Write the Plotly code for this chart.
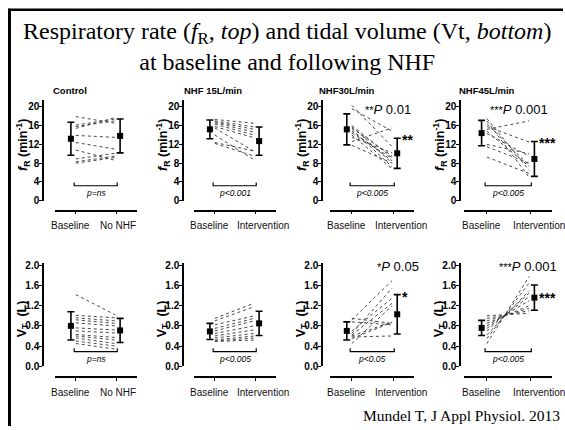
import plotly.graph_objects as go

W, H = 565, 430

# ---------------- data ----------------
panel_titles = ["Control", "NHF 15L/min", "NHF30L/min", "NHF45L/min"]
x_labels_ctrl = ["Baseline", "No NHF"]
x_labels_int = ["Baseline", "Intervention"]

# Respiratory rate fR (min^-1): individual subjects, baseline -> after
ctrl_fr_base = [17.9, 16.1, 15.8, 15.4, 13.9, 12.4, 10.8, 8.9, 8.3, 8.0]
ctrl_fr_post = [16.5, 17.4, 17.0, 17.7, 13.5, 11.0, 8.6, 10.1, 9.5, 9.2]
n15_fr_base = [17.3, 17.0, 16.8, 16.6, 16.3, 15.8, 15.5, 14.0, 12.4, 12.2]
n15_fr_post = [16.5, 15.7, 15.2, 14.6, 14.0, 13.4, 10.5, 8.7, 10.6, 9.5]
n30_fr_base = [20.3, 19.6, 16.0, 15.8, 15.5, 15.2, 14.8, 14.4, 14.0, 13.5, 12.6, 11.8]
n30_fr_post = [11.5, 14.8, 9.2, 8.0, 9.5, 7.2, 8.5, 9.0, 6.8, 10.2, 15.5, 8.0]
n45_fr_base = [17.5, 17.0, 16.4, 15.8, 15.2, 14.8, 14.3, 12.0, 11.5, 9.3]
n45_fr_post = [6.5, 5.0, 7.5, 12.5, 17.0, 7.3, 9.5, 10.0, 8.0, 5.8]

# Tidal volume Vt (L)
ctrl_vt_base = [1.42, 1.01, 0.96, 0.92, 0.86, 0.76, 0.70, 0.63, 0.60, 0.56, 0.50, 0.45]
ctrl_vt_post = [1.02, 0.96, 0.90, 0.85, 0.80, 0.72, 0.66, 0.57, 0.52, 0.45, 0.40, 0.34]
n15_vt_base = [0.95, 0.90, 0.82, 0.75, 0.70, 0.65, 0.60, 0.56, 0.52, 0.50, 0.49]
n15_vt_post = [1.25, 1.18, 1.00, 0.95, 0.90, 0.80, 0.72, 0.65, 0.60, 0.56, 0.52]
n30_vt_base = [0.92, 0.95, 0.88, 0.65, 0.70, 0.62, 0.60, 0.58, 0.55, 0.45]
n30_vt_post = [1.70, 0.85, 0.82, 1.55, 1.35, 1.25, 0.88, 0.60, 0.87, 1.20]
n45_vt_base = [0.45, 0.55, 0.62, 0.70, 0.75, 0.80, 0.85, 0.90, 0.95, 1.00]
n45_vt_post = [1.78, 1.65, 1.50, 1.45, 1.38, 1.30, 1.20, 1.15, 1.10, 1.05]

# group means and SD [baseline, after]
ctrl_fr_mean, ctrl_fr_sd = [13.2, 13.8], [3.5, 3.6]
n15_fr_mean, n15_fr_sd = [15.2, 12.7], [2.0, 3.0]
n30_fr_mean, n30_fr_sd = [15.2, 10.1], [3.3, 3.2]
n45_fr_mean, n45_fr_sd = [14.4, 8.9], [2.7, 3.7]
ctrl_vt_mean, ctrl_vt_sd = [0.80, 0.71], [0.28, 0.24]
n15_vt_mean, n15_vt_sd = [0.69, 0.85], [0.16, 0.24]
n30_vt_mean, n30_vt_sd = [0.70, 1.03], [0.18, 0.39]
n45_vt_mean, n45_vt_sd = [0.76, 1.36], [0.15, 0.25]

# p-value texts under the brackets
fr_pvals = ["p=ns", "p<0.001", "p<0.005", "p<0.005"]
vt_pvals = ["p=ns", "p<0.005", "p<0.05", "p<0.005"]
# significance stars and headline labels (empty = none)
fr_stars = ["", "", "**", "***"]
vt_stars = ["", "", "*", "***"]
fr_sig_text = ["", "", "0.01", "0.001"]
vt_sig_text = ["", "", "0.05", "0.001"]

fr_ticks = [0, 4, 8, 12, 16, 20]
vt_ticks = [0.0, 0.4, 0.8, 1.2, 1.6, 2.0]

# ---------------- layout geometry (pixels / data units) ----------------
col_yaxis_px = [43, 183, 322, 460]
col_xdom_px = [(54.5, 136.5), (193.5, 275.5), (330, 414), (464, 552)]
rows = [
    dict(y0=202, ytop=98.8, xline=212, xlab=227, rng=[0, 21.5], ticks=fr_ticks, fmt="d",
         brk=3.2, brk_h=0.7, ptxt=1.7, sig_y=19.4,
         star_y=[None, None, 12.9, 12.3], sig_x=[None, None, 0.28, 0.05]),
    dict(y0=371, ytop=265.4, xline=382, xlab=398, rng=[0, 2.05], ticks=vt_ticks, fmt=".1f",
         brk=0.29, brk_h=0.065, ptxt=0.15, sig_y=1.98,
         star_y=[None, None, 1.37, 1.35], sig_x=[None, None, 0.57, 0.25]),
]
# x positions (data units) of the category label centres
xlab_pos_ctrl = [-0.1, 1.04]
xlab_pos_int = [-0.1, 1.2]

def px(x):
    return x / W

def py(y):
    return 1 - y / H

fr_sets = [(ctrl_fr_base, ctrl_fr_post, ctrl_fr_mean, ctrl_fr_sd),
           (n15_fr_base, n15_fr_post, n15_fr_mean, n15_fr_sd),
           (n30_fr_base, n30_fr_post, n30_fr_mean, n30_fr_sd),
           (n45_fr_base, n45_fr_post, n45_fr_mean, n45_fr_sd)]
vt_sets = [(ctrl_vt_base, ctrl_vt_post, ctrl_vt_mean, ctrl_vt_sd),
           (n15_vt_base, n15_vt_post, n15_vt_mean, n15_vt_sd),
           (n30_vt_base, n30_vt_post, n30_vt_mean, n30_vt_sd),
           (n45_vt_base, n45_vt_post, n45_vt_mean, n45_vt_sd)]

fig = go.Figure()
annotations = []
layout_axes = {}

SANS = "Liberation Sans, Arial, sans-serif"
SERIF = "Liberation Serif, Times New Roman, serif"

def ann(**kw):
    kw.setdefault("showarrow", False)
    kw.setdefault("xanchor", "center")
    kw.setdefault("yanchor", "middle")
    annotations.append(kw)

for r, (row, sets, pvals, stars, sigs) in enumerate(
        [(rows[0], fr_sets, fr_pvals, fr_stars, fr_sig_text),
         (rows[1], vt_sets, vt_pvals, vt_stars, vt_sig_text)]):
    for c in range(4):
        i = r * 4 + c + 1
        xa = "x" if i == 1 else f"x{i}"
        ya = "y" if i == 1 else f"y{i}"
        base, post, mean, sd = sets[c]

        # individual subjects
        xs, ys = [], []
        for b, a in zip(base, post):
            xs += [0.02, 0.98, None]
            ys += [b, a, None]
        fig.add_trace(go.Scatter(x=xs, y=ys, mode="lines", xaxis=xa, yaxis=ya,
                                 line=dict(color="#333333", width=0.9, dash="dot"),
                                 showlegend=False, hoverinfo="skip"))
        # mean +/- SD
        fig.add_trace(go.Scatter(x=[-0.1, 1.1], y=mean, mode="markers", xaxis=xa, yaxis=ya,
                                 marker=dict(symbol="square", size=6, color="black"),
                                 error_y=dict(type="data", array=sd, color="black",
                                              thickness=1.6, width=3.5),
                                 showlegend=False, cliponaxis=False))
        # bracket
        bh = row["brk"]
        fig.add_trace(go.Scatter(x=[-0.02, -0.02, 1.03, 1.03],
                                 y=[bh + row["brk_h"], bh, bh, bh + row["brk_h"]],
                                 mode="lines", xaxis=xa, yaxis=ya,
                                 line=dict(color="black", width=1.2),
                                 showlegend=False, hoverinfo="skip"))
        ann(x=0.5, y=row["ptxt"], xref=xa, yref=ya, text=f"<i>{pvals[c]}</i>",
            font=dict(family=SANS, size=8.5, color="black"))
        if stars[c]:
            ann(x=1.17, y=row["star_y"][c], xref=xa, yref=ya, xanchor="left",
                text=f"<b>{stars[c]}</b>",
                font=dict(family=SANS, size=14, color="black"))
            ann(x=row["sig_x"][c], y=row["sig_y"], xref=xa, yref=ya, xanchor="left",
                text=f"<span style='font-size:11px'>{stars[c]}</span><i>P</i> {sigs[c]}",
                font=dict(family=SANS, size=13, color="black"))

        # category labels
        labels = x_labels_ctrl if c == 0 else x_labels_int
        lpos = xlab_pos_ctrl if c == 0 else xlab_pos_int
        for lab, lx in zip(labels, lpos):
            ann(x=lx, y=py(row["xlab"]), xref=xa, yref="paper", text=lab,
                font=dict(family=SANS, size=10, color="#111"))

        xd = col_xdom_px[c]
        layout_axes["xaxis" if i == 1 else f"xaxis{i}"] = dict(
            domain=[px(xd[0]), px(xd[1])], anchor="free", position=py(row["xline"]),
            range=[-0.5, 1.5], tickvals=[0, 1], showticklabels=False,
            showline=True, linecolor="black", linewidth=1.5, ticks="outside",
            ticklen=3, tickwidth=1.2, tickcolor="black", showgrid=False, zeroline=False,
            fixedrange=True)
        layout_axes["yaxis" if i == 1 else f"yaxis{i}"] = dict(
            domain=[py(row["y0"]), py(row["ytop"])], anchor="free", position=px(col_yaxis_px[c]),
            range=row["rng"], tickvals=row["ticks"], tickformat=row["fmt"],
            showline=True, linecolor="black", linewidth=1.5, ticks="outside",
            ticklen=3, tickwidth=1.2, tickcolor="black", showgrid=False, zeroline=False,
            ticklabelstandoff=-2,
            tickfont=dict(family=SANS, size=10, color="black", weight="bold"),
            fixedrange=True)

# y-axis titles
for c in range(4):
    tx = col_yaxis_px[c] - 20
    ann(x=px(tx), y=py(145), xref="paper", yref="paper",
        text="<b><i>f</i><sub>R</sub> (min<sup>-1</sup>)</b>", textangle=-90,
        font=dict(family=SANS, size=12.5, color="black"))
    ann(x=px(tx), y=py(323), xref="paper", yref="paper",
        text="<b>V<sub>T</sub>  (L)</b>", textangle=-90,
        font=dict(family=SANS, size=12.5, color="black"))

# panel titles
title_cx = [70, 213, 347, 487]
for c in range(4):
    ann(x=px(title_cx[c]), y=py(89), xref="paper", yref="paper",
        text=f"<b>{panel_titles[c]}</b>",
        font=dict(family=SANS, size=9.5, color="black"))

# slide title (two lines in one text block)
ann(x=px(287), y=py(44), xref="paper", yref="paper",
    text="Respiratory rate (<i>f</i><sub>R</sub>, <i>top</i>) and tidal volume (Vt, <i>bottom</i>)"
         "<br>at baseline and following NHF",
    font=dict(family=SERIF, size=24, color="black"))
# citation
ann(x=px(562), y=py(421), xref="paper", yref="paper", xanchor="right",
    text="Mundel T, J Appl Physiol. 2013",
    font=dict(family=SERIF, size=15.5, color="black"))

shapes = [
    dict(type="line", xref="paper", yref="paper", x0=px(9.5), x1=px(9.5), y0=py(6), y1=py(432),
         line=dict(color="black", width=3)),
    dict(type="line", xref="paper", yref="paper", x0=px(8), x1=px(563), y0=py(7), y1=py(7),
         line=dict(color="black", width=2.5)),
]

fig.update_layout(width=W, height=H, margin=dict(l=0, r=0, t=0, b=0),
                  paper_bgcolor="white", plot_bgcolor="white",
                  annotations=annotations, shapes=shapes, showlegend=False, **layout_axes)

fig.write_html("out.html")
